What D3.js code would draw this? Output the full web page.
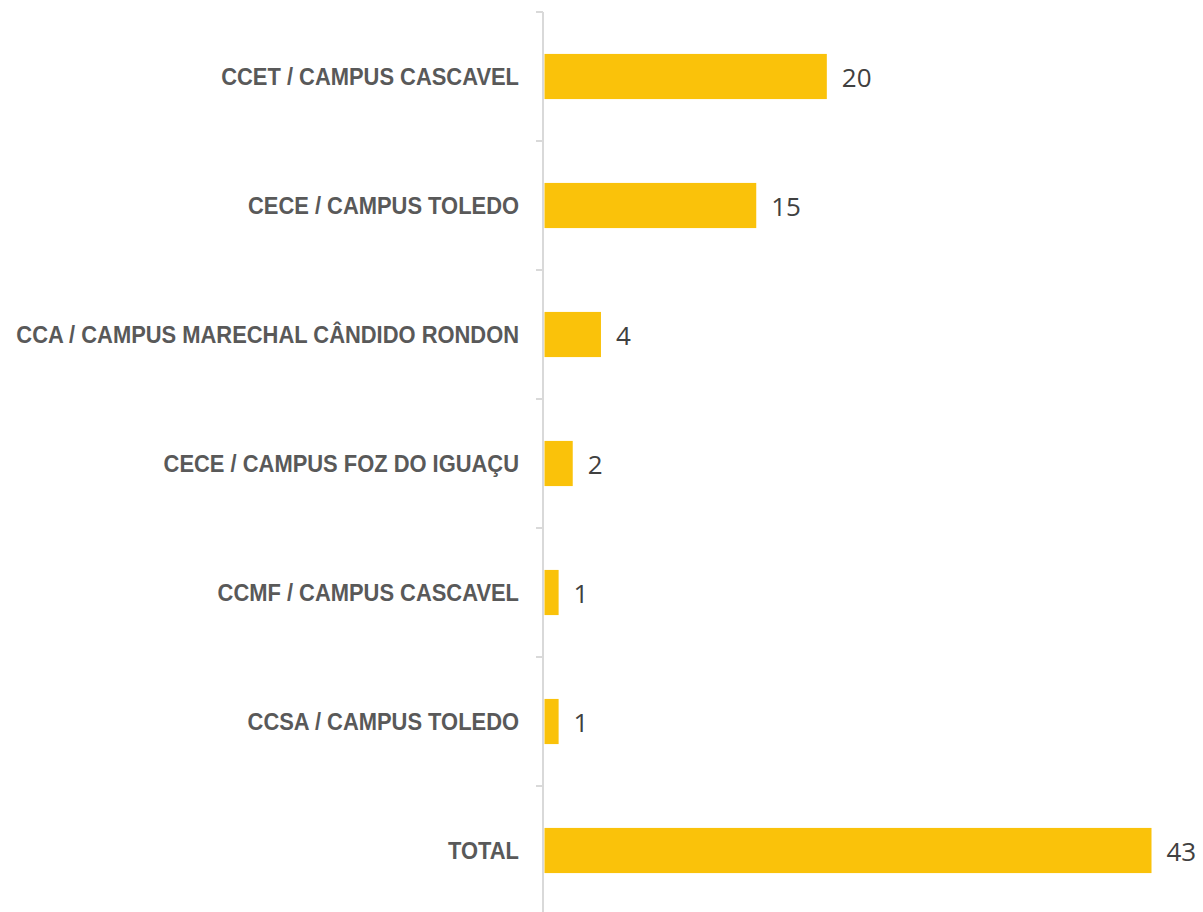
<!DOCTYPE html>
<html><head><meta charset="utf-8">
<script src="https://cdn.jsdelivr.net/npm/d3@7"></script>
<style>body{margin:0;background:#fff}</style>
</head><body>
<svg id="c" width="1203" height="912"></svg>
<script>
const categories = ["CCET / CAMPUS CASCAVEL","CECE / CAMPUS TOLEDO","CCA / CAMPUS MARECHAL CÂNDIDO RONDON","CECE / CAMPUS FOZ DO IGUAÇU","CCMF / CAMPUS CASCAVEL","CCSA / CAMPUS TOLEDO","TOTAL"];
const values = [20,15,4,2,1,1,43];

const svg = d3.select("#c");
const x = d3.scaleLinear().domain([0,43]).range([544.5,1151.5]);
const y = d3.scaleBand().domain(categories).range([12,915]).paddingInner(0.65).paddingOuter(0.325);
const yb = d3.scaleBand().domain(categories).range([12,915]);

svg.append("line").attr("x1",543).attr("x2",543).attr("y1",12).attr("y2",912)
  .attr("stroke","#d9d9d9").attr("stroke-width",2);
categories.forEach(c=>{
  svg.append("line").attr("x1",536).attr("x2",543).attr("y1",yb(c)).attr("y2",yb(c))
    .attr("stroke","#d9d9d9").attr("stroke-width",2);
});

svg.selectAll("rect.bar").data(values).enter().append("rect")
  .attr("x",x(0)).attr("y",(d,i)=>y(categories[i]))
  .attr("width",d=>x(d)-x(0)).attr("height",y.bandwidth())
  .attr("fill","#fac20a");

svg.selectAll("text.v").data(values).enter().append("text")
  .attr("x",d=>x(d)+15).attr("y",(d,i)=>y(categories[i])+y.bandwidth()/2+1)
  .attr("dy","0.36em").attr("font-family","'Open Sans', sans-serif").attr("font-size",26)
  .attr("fill","#404040").text(d=>d);

svg.selectAll("g.l").data(categories).enter().append("g")
  .attr("transform",d=>`translate(519,${y(d)+y.bandwidth()/2}) scale(0.953,1)`)
  .append("text").attr("dy","0.36em")
  .attr("text-anchor","end").attr("font-family","'Liberation Sans', Arial, sans-serif")
  .attr("font-weight","bold").attr("font-size",23).attr("fill","#595959").text(d=>d);
</script>
</body></html>
